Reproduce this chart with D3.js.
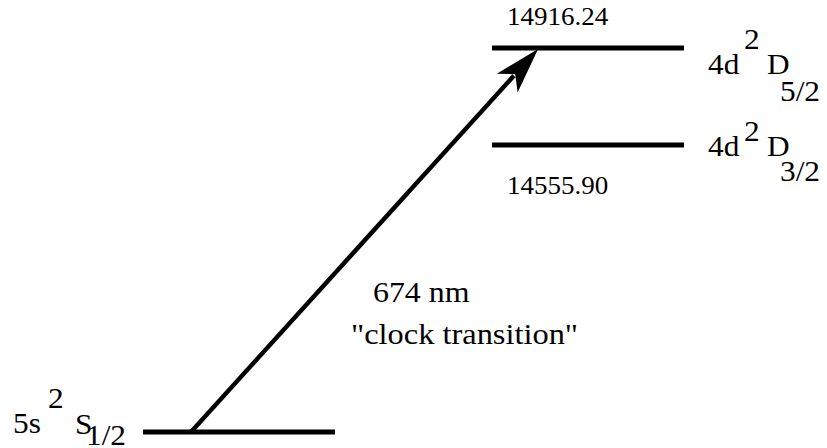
<!DOCTYPE html>
<html><head><meta charset="utf-8">
<script src="https://cdn.jsdelivr.net/npm/d3@7"></script>
<style>body{margin:0;background:#fff}</style>
</head><body><svg id="c" width="827" height="448"></svg>
<script>
// ---- data ----
const levelEnergies = [0, 14555.90, 14916.24];
const levelColumns = ["ground", "excited", "excited"];
const levelConfig = ["5s", "4d", "4d"];
const levelMult = ["2", "2", "2"];
const levelTerm = ["S", "D", "D"];
const levelJ = ["1/2", "3/2", "5/2"];
const energyLabels = ["", "14555.90", "14916.24"];
const columns = ["ground", "excited"];
const transitionFrom = 0, transitionTo = 2;
const transitionLabel = ["674 nm", "\"clock transition\""];

// ---- scales ----
const svg = d3.select("#c");
const y = d3.scaleLinear().domain(levelEnergies).range([432, 145, 48]);
const x = d3.scaleBand().domain(columns).range([143, 684]).paddingInner(0.45).paddingOuter(0);
const bw = x.bandwidth();
const stretch = 1.08;

// ---- level lines ----
svg.selectAll("line.level").data(levelEnergies).join("line")
  .attr("class", "level")
  .attr("x1", (d, i) => x(levelColumns[i]))
  .attr("x2", (d, i) => x(levelColumns[i]) + bw)
  .attr("y1", d => y(d)).attr("y2", d => y(d))
  .attr("stroke", "#000").attr("stroke-width", 5);

// ---- transition arrow ----
const x0 = x(levelColumns[transitionFrom]) + bw * 0.25, y0 = y(levelEnergies[transitionFrom]);
const x1 = x(levelColumns[transitionTo]) + bw * 0.24, y1 = y(levelEnergies[transitionTo]) + 1;
const dx = x1 - x0, dy = y1 - y0, L = Math.hypot(dx, dy);
const ux = dx / L, uy = dy / L, px = -uy, py = ux;
const hl = 46, hw = 14, notch = 34;
svg.append("line")
  .attr("x1", x0).attr("y1", y0)
  .attr("x2", x1 - ux * (notch + 2)).attr("y2", y1 - uy * (notch + 2))
  .attr("stroke", "#000").attr("stroke-width", 4.5);
svg.append("path")
  .attr("d", d3.line()([
    [x1, y1],
    [x1 - ux * hl + px * hw, y1 - uy * hl + py * hw],
    [x1 - ux * notch, y1 - uy * notch],
    [x1 - ux * hl - px * hw, y1 - uy * hl - py * hw]
  ]) + "Z")
  .attr("fill", "#000");

// ---- text helper ----
const texts = [];
function txt(s, tx, ty, size) {
  const t = svg.append("text").attr("x", tx).attr("y", ty)
    .style("font-family", "\"Liberation Serif\"")
    .style("font-size", size + "px").attr("fill", "#000").text(s);
  texts.push(t);
  return t;
}

// ---- level term labels (layout offsets per level) ----
const labelLayout = [
  {cfg: [13, 433], mult: [48, 408], term: [75, 434], j: [86, 445]},
  {cfg: [708, 156], mult: [744, 141], term: [767, 156], j: [780, 181]},
  {cfg: [708, 74], mult: [744, 49], term: [767, 74], j: [780, 101]}
];
levelEnergies.forEach((e, i) => {
  const l = labelLayout[i];
  txt(levelConfig[i], l.cfg[0], l.cfg[1], 29);
  txt(levelMult[i], l.mult[0], l.mult[1], 29);
  txt(levelTerm[i], l.term[0], l.term[1], 29);
  txt(levelJ[i], l.j[0], l.j[1], 29);
});

// ---- energy labels ----
const energyOffset = [0, 49, -23];
levelEnergies.forEach((e, i) => {
  if (energyLabels[i]) txt(energyLabels[i], x(levelColumns[i]) + 15, y(e) + energyOffset[i], 25);
});

// ---- transition label ----
txt(transitionLabel[0], 373, 302, 29.5);
txt(transitionLabel[1], 351, 344, 30);

// horizontal stretch of the glyphs, as in the reference
function applyStretch() {
  texts.forEach(t => {
    t.attr("textLength", null);
    const w = t.node().getComputedTextLength();
    t.attr("textLength", w * stretch).attr("lengthAdjust", "spacingAndGlyphs");
  });
}
applyStretch();
if (document.fonts && document.fonts.ready) document.fonts.ready.then(applyStretch);
</script>
</body></html>
